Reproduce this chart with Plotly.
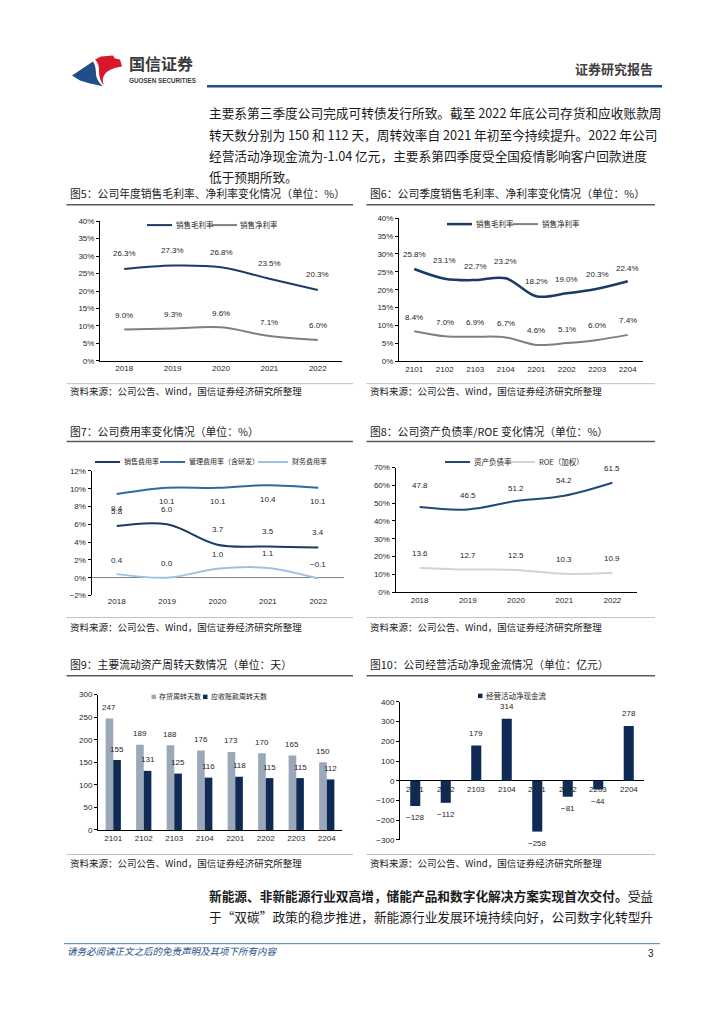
import plotly.graph_objects as go

W, H = 724, 1024
OFF = 8          # browser body margin around the plot div
FW, FH = W - OFF, H - OFF


def px(x):
    return (x - OFF) / FW


def py(y):
    return 1 - (y - OFF) / FH


# ---------------- data ----------------
years = ['2018', '2019', '2020', '2021', '2022']
quarters = ['2101', '2102', '2103', '2104', '2201', '2202', '2203', '2204']

f5_gross = [26.3, 27.3, 26.8, 23.5, 20.3]
f5_net = [9.0, 9.3, 9.6, 7.1, 6.0]

f6_gross = [25.8, 23.1, 22.7, 23.2, 18.2, 19.0, 20.3, 22.4]
f6_net = [8.4, 7.0, 6.9, 6.7, 4.6, 5.1, 6.0, 7.4]

f7_sales = [5.8, 6.0, 3.7, 3.5, 3.4]
f7_admin = [9.4, 10.1, 10.1, 10.4, 10.1]
f7_fin = [0.4, 0.0, 1.0, 1.1, -0.1]

f8_debt = [47.8, 46.5, 51.2, 54.2, 61.5]
f8_roe = [13.6, 12.7, 12.5, 10.3, 10.9]

f9_inv = [247, 189, 188, 176, 173, 170, 165, 150]
f9_rec = [155, 131, 125, 116, 118, 115, 115, 112]

f10_cf = [-128, -112, 179, 314, -258, -81, -44, 278]

# ---------------- style ----------------
FONT = "Liberation Sans, Noto Sans CJK SC, sans-serif"
CJK = "Noto Sans CJK SC, sans-serif"
NAVY = '#1B3A66'
GRAY = '#7F7F7F'
MIDBLUE = '#2F6AA3'
LIGHTBLUE = '#9CC3E5'
DEBT = '#1F4A7A'
LIGHTGRAY = '#D3D3D3'
BAR_GRAY = '#9BA8B9'
BAR_NAVY = '#0E2A55'
TXT = '#262626'

# label offsets (pixels above the point), styling only
SHIFT_F6_GROSS = [14, 18, 14, 17, 15, 14, 14, 13]
SHIFT_F8_DEBT = [22, 14, 13, 15, 14]

fig = go.Figure()
annotations = []
shapes = []


def set_axes(n, cats, x0, x1, ytop, ybot, rng, tickvals, suffix='', xline=True,
             xlabels=True, zeroline=False, zcolor='black'):
    key = '' if n == 1 else str(n)
    xa = dict(domain=[px(x0), px(x1)], anchor='y' + key, type='category',
              categoryorder='array', categoryarray=cats,
              range=[-0.5, len(cats) - 0.5], showgrid=False, showline=xline,
              linecolor='black', linewidth=1, ticks='', showticklabels=xlabels,
              tickfont=dict(size=8, color=TXT, family=FONT), zeroline=False, fixedrange=True)
    ya = dict(domain=[py(ybot), py(ytop)], anchor='x' + key, range=rng,
              tickmode='array', tickvals=tickvals,
              ticktext=[f'{v}{suffix}'.replace('-', '−') for v in tickvals],
              showgrid=False, showline=True, linecolor='black', linewidth=1,
              ticks='outside', ticklen=3, tickcolor='black',
              tickfont=dict(size=8, color=TXT, family=FONT),
              zeroline=zeroline, zerolinecolor=zcolor, zerolinewidth=1, fixedrange=True)
    fig.layout['xaxis' + key] = xa
    fig.layout['yaxis' + key] = ya


# Fig 5
set_axes(1, years, 100, 342, 219, 360, [0, 40], list(range(0, 41, 5)), '%')
# Fig 6
set_axes(2, quarters, 399, 643, 216, 360.5, [0, 40], list(range(0, 41, 5)), '%')
# Fig 7
set_axes(3, years, 91.5, 343.5, 471, 596.7, [-2, 12], list(range(-2, 13, 2)), '%',
         xline=False, zeroline=True, zcolor='#808080')
# Fig 8
set_axes(4, years, 395.5, 636.5, 467.7, 593.3, [0, 70], list(range(0, 71, 10)), '%')
# Fig 9
set_axes(5, quarters, 98, 342, 696.7, 833.3, [0, 300], list(range(0, 301, 50)))
# Fig 10
set_axes(6, quarters, 400, 644, 704, 843.3, [-300, 400], list(range(-300, 401, 100)),
         xline=False, xlabels=False, zeroline=True, zcolor='black')


def line_trace(x, y, name, color, n, width=2):
    key = '' if n == 1 else str(n)
    fig.add_trace(go.Scatter(x=x, y=y, name=name, mode='lines', xaxis='x' + key,
                             yaxis='y' + key, hoverinfo='skip', showlegend=False,
                             line=dict(color=color, width=width, shape='spline', smoothing=1.0)))


def labels(y, n, fmt, shift, xshift=0):
    key = '' if n == 1 else str(n)
    shifts = shift if isinstance(shift, list) else [shift] * len(y)
    for i, (yi, sh) in enumerate(zip(y, shifts)):
        txt = fmt.format(yi).replace('-', '−')
        annotations.append(dict(x=i, y=yi, xref='x' + key, yref='y' + key, text=txt,
                                showarrow=False, yshift=sh, xshift=xshift,
                                font=dict(size=8, color=TXT, family=FONT)))


# Fig 5 traces
line_trace(years, f5_gross, '销售毛利率', NAVY, 1)
line_trace(years, f5_net, '销售净利率', GRAY, 1)
labels(f5_gross, 1, '{:.1f}%', 15)
labels(f5_net, 1, '{:.1f}%', 14)

# Fig 6
line_trace(quarters, f6_gross, '销售毛利率', NAVY, 2, 2.5)
line_trace(quarters, f6_net, '销售净利率', GRAY, 2)
labels(f6_gross, 2, '{:.1f}%', SHIFT_F6_GROSS)
labels(f6_net, 2, '{:.1f}%', 14)

# Fig 7
line_trace(years, f7_sales, '销售费用率', NAVY, 3)
line_trace(years, f7_admin, '管理费用率（含研发）', MIDBLUE, 3)
line_trace(years, f7_fin, '财务费用率', LIGHTBLUE, 3)
labels(f7_sales, 3, '{:.1f}', 15)
labels(f7_admin, 3, '{:.1f}', -14)
labels(f7_fin, 3, '{:.1f}', 14)

# Fig 8
line_trace(years, f8_debt, '资产负债率', DEBT, 4)
line_trace(years, f8_roe, 'ROE（加权）', LIGHTGRAY, 4)
labels(f8_debt, 4, '{:.1f}', SHIFT_F8_DEBT)
labels(f8_roe, 4, '{:.1f}', 14)

# Fig 9 bars
BW9 = 0.25
fig.add_trace(go.Bar(x=quarters, y=f9_inv, name='存货周转天数', xaxis='x5', yaxis='y5',
                     marker=dict(color=BAR_GRAY, line=dict(width=0)), showlegend=False,
                     width=BW9, offset=-BW9, hoverinfo='skip'))
fig.add_trace(go.Bar(x=quarters, y=f9_rec, name='应收账款周转天数', xaxis='x5', yaxis='y5',
                     marker=dict(color=BAR_NAVY, line=dict(width=0)), showlegend=False,
                     width=BW9, offset=0, hoverinfo='skip'))
labels(f9_inv, 5, '{:d}', 11, xshift=-4)
labels(f9_rec, 5, '{:d}', 11, xshift=4)

# Fig 10 bars
BW10 = 0.33
fig.add_trace(go.Bar(x=quarters, y=f10_cf, name='经营活动净现金流', xaxis='x6', yaxis='y6',
                     marker=dict(color=BAR_NAVY, line=dict(width=0)), showlegend=False,
                     width=BW10, offset=-BW10 / 2, hoverinfo='skip'))
for i, (q, v) in enumerate(zip(quarters, f10_cf)):
    annotations.append(dict(x=i, y=v, xref='x6', yref='y6', text=f'{v}'.replace('-', '−'),
                            showarrow=False, yshift=12 if v >= 0 else -12,
                            font=dict(size=8, color=TXT, family=FONT)))
    annotations.append(dict(x=i, y=0, xref='x6', yref='y6', text=q, showarrow=False,
                            yshift=-9, font=dict(size=8, color=TXT, family=FONT)))


# ---------------- page text helpers ----------------
def text(x, y, s, size, color=TXT, family=CJK, anchor='left', lift=0.25):
    y = y - lift * size
    annotations.append(dict(x=px(x), y=py(y), xref='paper', yref='paper', text=s,
                            showarrow=False, xanchor=anchor, yanchor='middle',
                            font=dict(size=size, color=color, family=family)))


def hline(x0, x1, y, color, width):
    shapes.append(dict(type='line', xref='paper', yref='paper', x0=px(x0), x1=px(x1),
                       y0=py(y), y1=py(y), line=dict(color=color, width=width)))


# ---------------- legends (drawn by hand) ----------------
def leg_line(x, y, color, label, size=7.5, length=25, width=2):
    hline(x, x + length, y, color, width)
    text(x + length + 1.5, y, label, size, TXT, lift=0.1)


def leg_box(x, y, color, label, size=7.2, s=4.5):
    shapes.append(dict(type='rect', xref='paper', yref='paper', x0=px(x), x1=px(x + s),
                       y0=py(y + s / 2), y1=py(y - s / 2), fillcolor=color,
                       line=dict(width=0)))
    text(x + s + 1, y, label, size, TXT, lift=0.1)


leg_line(147, 223, NAVY, '销售毛利率')
leg_line(212, 223, GRAY, '销售净利率')
leg_line(447, 222, NAVY, '销售毛利率', width=2.5)
leg_line(513, 222, GRAY, '销售净利率')
leg_line(95, 462, NAVY, '销售费用率', size=7)
leg_line(160, 462, MIDBLUE, '管理费用率（含研发）', size=7)
leg_line(258, 462, LIGHTBLUE, '财务费用率', size=7, length=30)
leg_line(445, 462, DEBT, '资产负债率')
leg_line(510, 462, LIGHTGRAY, 'ROE（加权）')
leg_box(151.5, 699, BAR_GRAY, '存货周转天数', size=7)
leg_box(203, 699, BAR_NAVY, '应收账款周转天数', size=7)
leg_box(478, 698, BAR_NAVY, '经营活动净现金流', size=7.5)

# ---------------- header ----------------
text(127, 63, '<b>国信证券</b>', 16, '#3A3A3A')
text(127, 77, '<b>GUOSEN SECURITIES</b>', 6.3, '#3A3A3A', FONT, lift=0)
text(655, 68, '<b>证券研究报告</b>', 13, '#404040', anchor='right')
hline(207, 662, 83, '#1F4E89', 2.5)


def path(cmds):
    out = []
    for c, pts in cmds:
        out.append(c + ' ' + ' '.join(f'{px(a):.5f},{py(b):.5f}' for a, b in pts))
    return ' '.join(out) + ' Z'


blue_logo = path([('M', [(72, 72)]), ('L', [(93, 58)]), ('C', [(97, 64), (95, 70), (97, 75)]),
                  ('C', [(99, 79), (101, 81), (103, 83)]), ('L', [(89, 80)]), ('L', [(80, 77)])])
red_logo = path([('M', [(95, 56)]), ('L', [(101, 53)]), ('L', [(113, 52)]), ('L', [(115, 55)]),
                 ('L', [(120, 56)]), ('L', [(122, 63)]), ('C', [(113, 64), (106, 68), (104, 72)]),
                 ('C', [(102, 76), (103, 79), (104, 82)]), ('C', [(100, 78), (99, 72), (99, 66)]),
                 ('C', [(99, 61), (97, 58), (95, 56)])])
shapes.append(dict(type='path', xref='paper', yref='paper', path=blue_logo,
                   fillcolor='#1F4E89', line=dict(width=0)))
shapes.append(dict(type='path', xref='paper', yref='paper', path=red_logo,
                   fillcolor='#D7182A', line=dict(width=0)))

body = [
    '主要系第三季度公司完成可转债发行所致。截至 2022 年底公司存货和应收账款周',
    '转天数分别为 150 和 112 天，周转效率自 2021 年初至今持续提升。2022 年公司',
    '经营活动净现金流为-1.04 亿元，主要系第四季度受全国疫情影响客户回款进度',
    '低于预期所致。',
]
for i, s in enumerate(body):
    text(207, 113 + i * 21.5, s, 12.7, '#1A1A1A')

# chart titles / separators / sources
titles = [
    (68, 193, '图5：公司年度销售毛利率、净利率变化情况（单位：%）'),
    (368, 193, '图6：公司季度销售毛利率、净利率变化情况（单位：%）'),
    (68, 433, '图7：公司费用率变化情况（单位：%）'),
    (368, 433, '图8：公司资产负债率/ROE 变化情况（单位：%）'),
    (68, 669, '图9：主要流动资产周转天数情况（单位：天）'),
    (368, 669, '图10：公司经营活动净现金流情况（单位：亿元）'),
]
for x, y, s in titles:
    text(x, y, s, 10.8, '#1A1A1A')

for y in (202.5, 441.3, 677.7):
    hline(66.5, 353, y, '#595959', 1.5)
    hline(366.5, 655, y, '#595959', 1.5)

src = '资料来源：公司公告、Wind，国信证券经济研究所整理'
for ysep, ysrc in ((383, 393), (619, 631), (858, 869)):
    hline(66.5, 353, ysep, '#BFBFBF', 1)
    hline(366.5, 655, ysep, '#BFBFBF', 1)
    text(68, ysrc, src, 9.5, '#1A1A1A')
    text(368, ysrc, src, 9.5, '#1A1A1A')

# bottom body text
text(207, 903, '<b>新能源、非新能源行业双高增，储能产品和数字化解决方案实现首次交付。</b>受益',
     12.7, '#1A1A1A')
text(207, 924, '于“双碳”政策的稳步推进，新能源行业发展环境持续向好，公司数字化转型升',
     12.7, '#1A1A1A')

# footer
hline(64, 660, 948, '#4F7FB5', 1)
text(65, 958, '<i>请务必阅读正文之后的免责声明及其项下所有内容</i>', 9.5, '#1F4E89')
text(656, 958, '3', 10, '#1A1A1A', FONT, anchor='right', lift=0)

fig.update_layout(
    width=FW, height=FH, autosize=False,
    margin=dict(l=0, r=0, t=0, b=0),
    paper_bgcolor='white', plot_bgcolor='white',
    font=dict(family=FONT, size=8, color=TXT),
    showlegend=False, barmode='group',
    annotations=annotations, shapes=shapes,
)

fig.write_html('out.html')
